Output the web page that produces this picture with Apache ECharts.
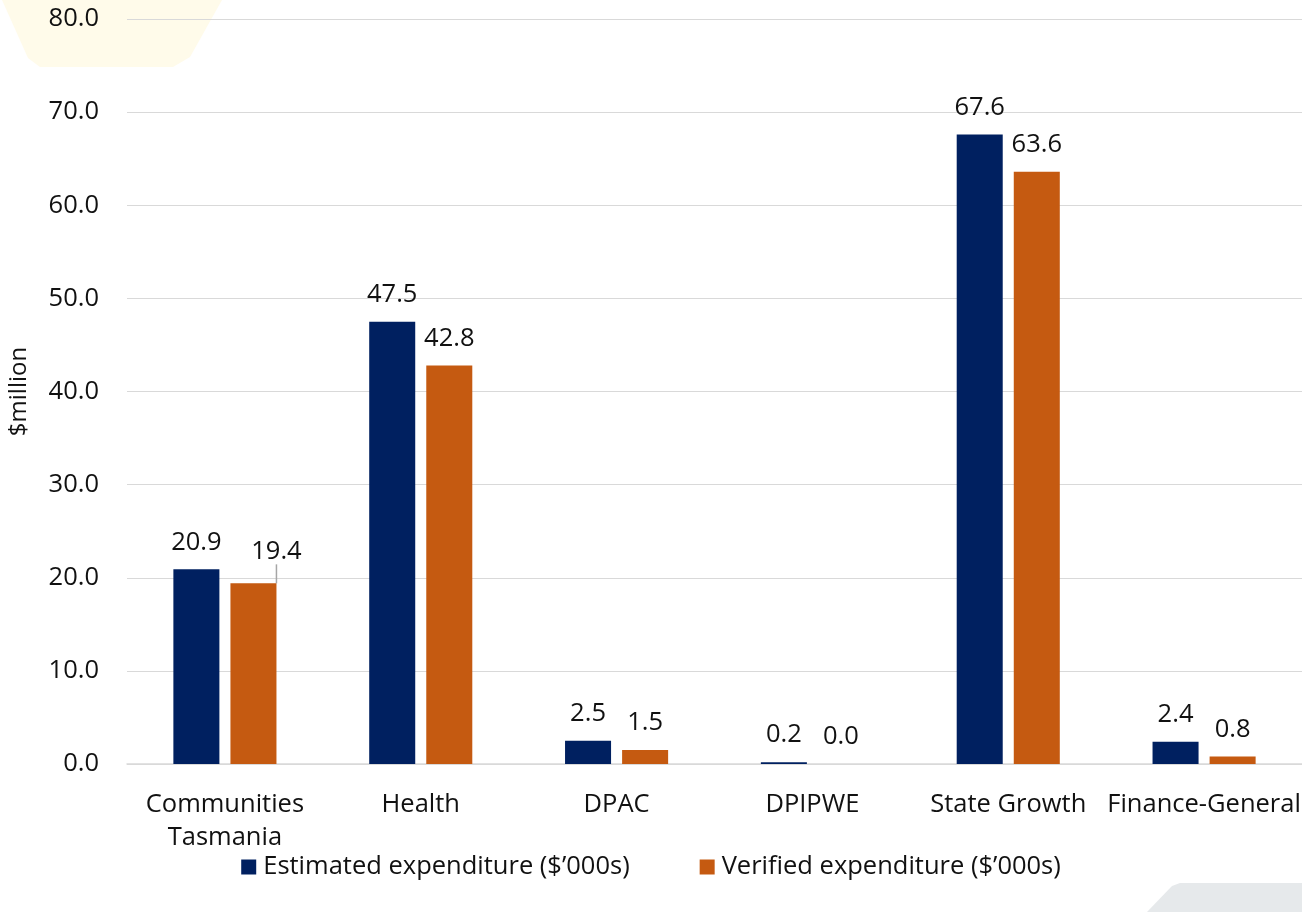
<!DOCTYPE html>
<html>
<head>
<meta charset="utf-8">
<script src="https://cdn.jsdelivr.net/npm/echarts@6/dist/echarts.min.js"></script>
<style>
html,body{margin:0;padding:0;background:#fff;}
#chart{width:1302px;height:912px;}
</style>
</head>
<body>
<div id="chart"></div>
<script>
const categories = ['Communities\nTasmania', 'Health', 'DPAC', 'DPIPWE', 'State Growth', 'Finance-General'];
const estimated = [20.9, 47.5, 2.5, 0.2, 67.6, 2.4];
const verified = [19.4, 42.8, 1.5, 0.0, 63.6, 0.8];
const seriesNames = ['Estimated expenditure ($\u2019000s)', 'Verified expenditure ($\u2019000s)'];
const yTicks = {min: 0, max: 80, interval: 10};
const yAxisTitle = '$million';

const FONT = '"Open Sans", sans-serif';
const TXT = '#111';
const FS = 25.5;
const chart = echarts.init(document.getElementById('chart'), null, {renderer: 'canvas'});

const labelBase = {
  show: true, position: 'top', distance: 14,
  fontFamily: FONT, fontSize: FS, color: TXT,
  formatter: p => Number(p.value).toFixed(1)
};

const verifiedData = verified.map((v, i) => i === 0
  ? {value: v, labelLine: {show: true, lineStyle: {color: '#a6a6a6', width: 1.5}}}
  : {value: v});

chart.setOption({
  animation: false,
  backgroundColor: '#fff',
  graphic: [
    {type: 'polygon', z: -10, silent: true,
     shape: {points: [[2,0],[222,0],[190,57],[173,67],[40,67],[28,58]]},
     style: {fill: '#fffbea'}},
    {type: 'polygon', z: -10, silent: true,
     shape: {points: [[1172,886],[1180,883],[1302,883],[1302,912],[1147,912]]},
     style: {fill: '#e6e9eb'}}
  ],
  grid: {left: 127, right: 0, top: 19, bottom: 148, containLabel: false, outerBoundsMode: 'none'},
  legend: {
    bottom: 27, left: 'center',
    itemWidth: 15, itemHeight: 15, itemGap: 70,
    icon: 'rect',
    textStyle: {fontFamily: FONT, fontSize: FS, color: TXT, padding: [0,0,0,2]},
    data: seriesNames
  },
  xAxis: {
    type: 'category',
    data: categories,
    axisLine: {show: true, lineStyle: {color: '#d9d9d9', width: 1.5}},
    axisTick: {show: false},
    axisLabel: {fontFamily: FONT, fontSize: FS, color: TXT, margin: 24, lineHeight: 33, interval: 0}
  },
  yAxis: {
    type: 'value',
    min: yTicks.min, max: yTicks.max, interval: yTicks.interval,
    name: yAxisTitle,
    nameLocation: 'middle',
    nameGap: 96,
    nameRotate: 90,
    nameTextStyle: {fontFamily: FONT, fontSize: 24, color: TXT},
    axisLine: {show: false},
    axisTick: {show: false},
    axisLabel: {fontFamily: FONT, fontSize: FS, color: TXT, margin: 28,
      formatter: v => v.toFixed(1)},
    splitLine: {lineStyle: {color: '#d9d9d9', width: 1.2}}
  },
  series: [
    {
      name: seriesNames[0], type: 'bar',
      barWidth: '23.5%', barGap: '24%',
      itemStyle: {color: '#002060'},
      label: labelBase,
      data: estimated
    },
    {
      name: seriesNames[1], type: 'bar',
      barWidth: '23.5%', barGap: '24%',
      itemStyle: {color: '#c55a11'},
      label: labelBase,
      labelLine: {show: false},
      labelLayout: function (params) {
        if (params.dataIndex === 0) {
          return {dx: 23, dy: -5};
        }
        return {};
      },
      data: verifiedData
    }
  ]
});
</script>
</body>
</html>
